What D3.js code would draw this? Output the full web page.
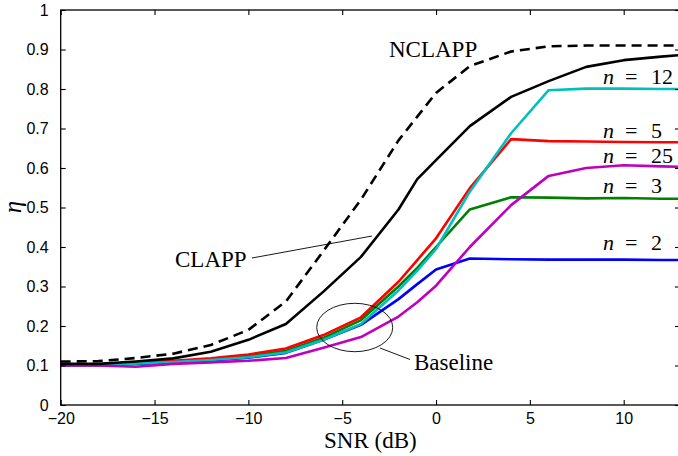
<!DOCTYPE html>
<html>
<head>
<meta charset="utf-8">
<script src="https://cdn.jsdelivr.net/npm/d3@7"></script>
<style>
  body { margin: 0; background: #fff; }
  svg { display: block; }
</style>
</head>
<body>
<div id="chart"></div>
<script>
// SNR grid (dB)
const snr = [-20, -18, -16, -14, -12, -10, -8, -6, -4, -2, -1, 0, 1.8, 4, 6, 8, 10, 12, 13];

// efficiency curves
const nclapp = [0.110, 0.111, 0.119, 0.130, 0.152, 0.190, 0.262, 0.390, 0.520, 0.670, 0.730, 0.790, 0.858, 0.895, 0.908, 0.910, 0.910, 0.910, 0.910];
const clapp  = [0.104, 0.104, 0.110, 0.118, 0.135, 0.165, 0.205, 0.287, 0.375, 0.495, 0.572, 0.620, 0.706, 0.780, 0.820, 0.856, 0.873, 0.882, 0.886];
const n2  = [0.100, 0.101, 0.104, 0.108, 0.113, 0.120, 0.132, 0.165, 0.203, 0.268, 0.306, 0.343, 0.371, 0.369, 0.368, 0.368, 0.368, 0.367, 0.367];
const n3  = [0.100, 0.101, 0.105, 0.110, 0.116, 0.124, 0.137, 0.170, 0.215, 0.300, 0.347, 0.400, 0.495, 0.526, 0.525, 0.523, 0.524, 0.522, 0.522];
const n5  = [0.100, 0.102, 0.107, 0.112, 0.118, 0.128, 0.143, 0.177, 0.222, 0.312, 0.367, 0.422, 0.549, 0.673, 0.668, 0.667, 0.666, 0.665, 0.665];
const n12 = [0.100, 0.101, 0.105, 0.109, 0.114, 0.121, 0.133, 0.165, 0.205, 0.290, 0.340, 0.395, 0.540, 0.688, 0.797, 0.801, 0.801, 0.800, 0.800];
const n25 = [0.100, 0.100, 0.097, 0.104, 0.108, 0.112, 0.119, 0.145, 0.172, 0.224, 0.260, 0.302, 0.400, 0.506, 0.580, 0.600, 0.607, 0.604, 0.603];

const xTicks = [-20, -15, -10, -5, 0, 5, 10];
const yTicks = [0, 0.1, 0.2, 0.3, 0.4, 0.5, 0.6, 0.7, 0.8, 0.9, 1];

const W = 678, H = 456;
const margin = { left: 60.7, right: 680, top: 10, bottom: 405 };

const x = d3.scaleLinear().domain([-20, 13]).range([margin.left, margin.right]);
const y = d3.scaleLinear().domain([0, 1]).range([margin.bottom, margin.top]);

const svg = d3.select('#chart').append('svg')
    .attr('width', W)
    .attr('height', H);

svg.append('rect').attr('width', W).attr('height', H).attr('fill', '#fff');

// curves, drawn in plot order (later on top)
const line = d3.line()
    .x((d, i) => x(snr[i]))
    .y(d => y(d));

const curves = [
    { v: n2, color: '#0000ff' },
    { v: n3, color: '#008000' },
    { v: n5, color: '#ff0000' },
    { v: n12, color: '#00bfbf' },
    { v: n25, color: '#bf00bf' },
    { v: clapp, color: '#000' },
    { v: nclapp, color: '#000', dash: '10,6' }
];

svg.append('g').selectAll('path')
    .data(curves)
    .enter()
    .append('path')
    .attr('d', d => line(d.v))
    .attr('fill', 'none')
    .attr('stroke', d => d.color)
    .attr('stroke-width', 2.6)
    .attr('stroke-linejoin', 'round')
    .attr('stroke-dasharray', d => d.dash || null);

// axes box
svg.append('rect')
    .attr('x', margin.left).attr('y', margin.top)
    .attr('width', margin.right - margin.left).attr('height', margin.bottom - margin.top)
    .attr('fill', 'none')
    .attr('stroke', '#000')
    .attr('stroke-width', 1.3);

const tickLen = 5;
const minus = s => String(s).replace('-', '\u2212');
const sans = '"Liberation Sans", Arial, sans-serif';

// x ticks on bottom and top, pointing inward
svg.append('g')
    .attr('transform', `translate(0, ${margin.bottom})`)
    .call(d3.axisBottom(x).tickValues(xTicks).tickSizeInner(-tickLen).tickSizeOuter(0).tickPadding(8).tickFormat(minus))
    .call(g => g.select('.domain').remove())
    .call(g => g.selectAll('line').attr('stroke-width', 1.1))
    .call(g => g.selectAll('text').attr('font-family', sans).attr('font-size', 16).attr('fill', '#000'));

svg.append('g')
    .attr('transform', `translate(0, ${margin.top})`)
    .call(d3.axisTop(x).tickValues(xTicks).tickSizeInner(-tickLen).tickSizeOuter(0).tickFormat(''))
    .call(g => g.select('.domain').remove())
    .call(g => g.selectAll('line').attr('stroke-width', 1.1));

// y ticks on left and right
svg.append('g')
    .attr('transform', `translate(${margin.left}, 0)`)
    .call(d3.axisLeft(y).tickValues(yTicks).tickSizeInner(-tickLen).tickSizeOuter(0).tickPadding(12).tickFormat(d3.format('')))
    .call(g => g.select('.domain').remove())
    .call(g => g.selectAll('line').attr('stroke-width', 1.1))
    .call(g => g.selectAll('text').attr('font-family', sans).attr('font-size', 16).attr('fill', '#000'));

svg.append('g')
    .attr('transform', `translate(${margin.right}, 0)`)
    .call(d3.axisRight(y).tickValues(yTicks).tickSizeInner(-tickLen).tickSizeOuter(0).tickFormat(''))
    .call(g => g.select('.domain').remove())
    .call(g => g.selectAll('line').attr('stroke-width', 1.1));

// axis titles
const serif = '"Liberation Serif", "Times New Roman", serif';

svg.append('text')
    .attr('x', (margin.left + margin.right) / 2)
    .attr('y', 448)
    .attr('text-anchor', 'middle')
    .attr('font-family', serif)
    .attr('font-size', 23)
    .text('SNR (dB)');

svg.append('text')
    .attr('transform', 'translate(21, 207) rotate(-90)')
    .attr('text-anchor', 'middle')
    .attr('font-family', serif)
    .attr('font-style', 'italic')
    .attr('font-size', 25)
    .text('η');

// annotations
const ann = svg.append('g').attr('font-family', serif).attr('font-size', 23);

ann.append('text').attr('x', 389).attr('y', 57).text('NCLAPP');
ann.append('text').attr('x', 175).attr('y', 267).text('CLAPP');
ann.append('text').attr('x', 414).attr('y', 370).text('Baseline');

ann.append('line')
    .attr('x1', 252).attr('y1', 258).attr('x2', 372).attr('y2', 236)
    .attr('stroke', '#000').attr('stroke-width', 0.9);

ann.append('ellipse')
    .attr('cx', 354.7).attr('cy', 327.5).attr('rx', 38).attr('ry', 24.2)
    .attr('fill', 'none').attr('stroke', '#000').attr('stroke-width', 0.9);

ann.append('line')
    .attr('x1', 380).attr('y1', 348).attr('x2', 410).attr('y2', 359.5)
    .attr('stroke', '#000').attr('stroke-width', 0.9);

// n = ... labels
const nLabels = [
    { t: '12', y: 84 },
    { t: '5', y: 137.5 },
    { t: '25', y: 162.5 },
    { t: '3', y: 193 },
    { t: '2', y: 250 }
];

nLabels.forEach(d => {
    const t = ann.append('text').attr('y', d.y).attr('font-size', 22);
    t.append('tspan').attr('x', 603).attr('font-style', 'italic').text('n');
    t.append('tspan').attr('x', 625).text('=');
    t.append('tspan').attr('x', 651).text(d.t);
});
</script>
</body>
</html>
